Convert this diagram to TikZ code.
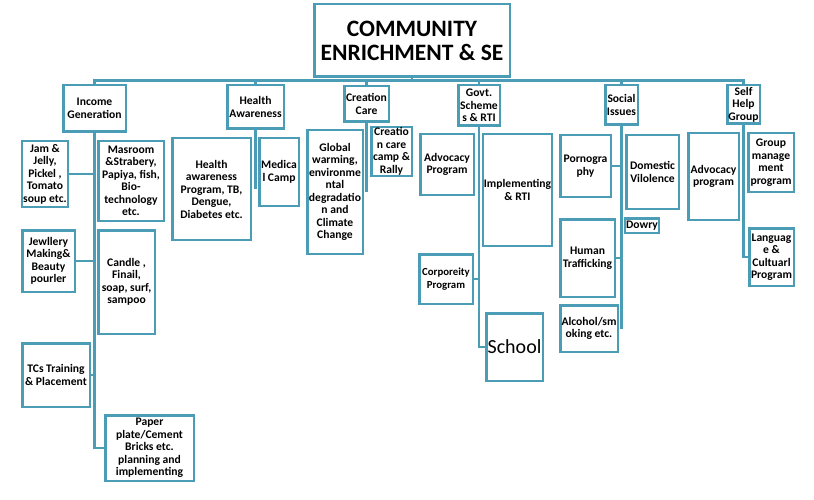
\documentclass[tikz,border=0pt]{standalone}
\usepackage{fontspec}
\setmainfont{Carlito}
\definecolor{boxblue}{HTML}{4A9DB5}
\begin{document}
\begin{tikzpicture}[x=1pt,y=-1pt]
  \tikzstyle{box}=[draw=boxblue,line width=2.5pt,align=center,inner sep=1pt,
                   font=\bfseries\fontsize{11.6}{12.5}\selectfont]
  \tikzstyle{link}=[draw=boxblue,line width=2.5pt]
  \useasboundingbox (0,0) rectangle (814,500);
  % title and first level
  \node[box,minimum width=195.5,minimum height=72.5,
        font=\bfseries\fontsize{23.5}{24}\selectfont] (main) at (412,40.5) {COMMUNITY\\ENRICHMENT \& SE};
  \node[box,minimum width=62.5,minimum height=46.5] (ig)  at (94.5,108.5) {Income\\Generation};
  \node[box,minimum width=56.5,minimum height=43.5] (ha)  at (255.5,107)  {Health\\Awareness};
  \node[box,minimum width=44.5,minimum height=35.5] (cc)  at (366.5,104)  {Creation\\Care};
  \node[box,minimum width=41.5,minimum height=40.5] (gs)  at (479,105.5)  {Govt.\\Scheme\\s \& RTI};
  \node[box,minimum width=32.5,minimum height=39.5] (si)  at (621.5,105)  {Social\\Issues};
  \node[box,minimum width=32.5,minimum height=38.5] (shg) at (743.5,104.5) {Self\\Help\\Group};
  \coordinate (bar) at (0,80.5);
  \draw[link] (main.south) -- (main.south |- bar);
  \draw[link] (ig.north) |- (shg.north |- bar) -- (shg.north);
  \foreach \n in {ha,cc,gs,si}
    \draw[link] (\n.north) -- (\n.north |- bar);
  % income generation
  \node[box,minimum width=45.5,minimum height=65.5] (jam)    at (45,174)    {Jam \&\\Jelly,\\Pickel ,\\Tomato\\soup etc.};
  \node[box,minimum width=65.5,minimum height=79.5] (mush)   at (131,181)   {Masroom\\\&Strabery,\\Papiya, fish,\\Bio-\\technology\\etc.};
  \node[box,minimum width=52.5,minimum height=61.5] (jewel)  at (48.5,261)  {Jewllery\\Making\&\\Beauty\\pourler};
  \node[box,minimum width=56.5,minimum height=103.5] (candle) at (126.5,282) {Candle ,\\Finail,\\soap, surf,\\sampoo};
  \node[box,minimum width=67.5,minimum height=63.5] (tcs)    at (56,375)    {TCs Training\\\& Placement};
  \node[box,minimum width=88.5,minimum height=65.5] (paper)  at (149.5,448) {Paper\\plate/Cement\\Bricks etc.\\planning and\\implementing};
  \draw[link] (ig.south) |- (paper.west);
  \foreach \n in {jam,jewel,tcs}
    \draw[link] (\n.east) -- (\n.east -| ig.south);
  % health awareness
  \node[box,minimum width=78.5,minimum height=101.5] (hap) at (211.5,189) {Health\\awareness\\Program, TB,\\Dengue,\\Diabetes etc.};
  \node[box,minimum width=39.5,minimum height=67.5] (camp) at (279,172) {Medica\\l Camp};
  \draw[link] (ha.south) -- (ha.south |- hap.east);
  % creation care
  \node[box,minimum width=55.5,minimum height=123.5] (warm) at (335,192) {Global\\warming,\\environme\\ntal\\degradatio\\n and\\Climate\\Change};
  \node[box,minimum width=40.5,minimum height=44.5] (rally) at (391.5,151.5) {Creatio\\n care\\camp \&\\Rally};
  \draw[link] (cc.south) -- (cc.south |- warm.east);
  % govt. schemes
  \node[box,minimum width=53.5,minimum height=60.5] (advo) at (447,164.5) {Advocacy\\Program};
  \node[box,minimum width=68.5,minimum height=111.5] (rti) at (517.5,190) {Implementing\\\& RTI};
  \node[box,minimum width=53.5,minimum height=49.5,
        font=\bfseries\fontsize{10.8}{12.5}\selectfont] (corp) at (446,279) {Corporeity\\Program};
  \node[box,minimum width=56.5,minimum height=67.5,
        font=\fontsize{20}{22}\selectfont] (school) at (514.5,347) {School};
  \draw[link] (gs.south) |- (school.west);
  \draw[link] (corp.east) -- (corp.east -| gs.south);
  % social issues
  \node[box,minimum width=50.5,minimum height=61.5] (porn)    at (585.5,166) {Pornogra\\phy};
  \node[box,minimum width=52.5,minimum height=73.5] (dv)      at (652.5,172) {Domestic\\Vilolence};
  \node[box,minimum width=31.5,minimum height=14.5] (dowry)   at (642,225.5) {Dowry};
  \node[box,minimum width=54.5,minimum height=77.5] (traffic) at (587.5,258) {Human\\Trafficking};
  \node[box,minimum width=57.5,minimum height=46.5] (alcohol) at (589,328.5) {Alcohol/sm\\oking etc.};
  \draw[link] (si.south) -- (si.south |- alcohol.east);
  \foreach \n in {porn,traffic}
    \draw[link] (\n.east) -- (\n.east -| si.south);
  % self help group
  \node[box,minimum width=50.5,minimum height=86.5] (shgadvo) at (713.5,176.5) {Advocacy\\program};
  \node[box,minimum width=45.5,minimum height=58.5] (group)   at (771,162.5)   {Group\\manage\\ment\\program};
  \node[box,minimum width=44.5,minimum height=57.5] (lang)    at (771.5,257)   {Languag\\e \&\\Cultuarl\\Program};
  \draw[link] (shg.south) |- (lang.west);
\end{tikzpicture}
\end{document}
